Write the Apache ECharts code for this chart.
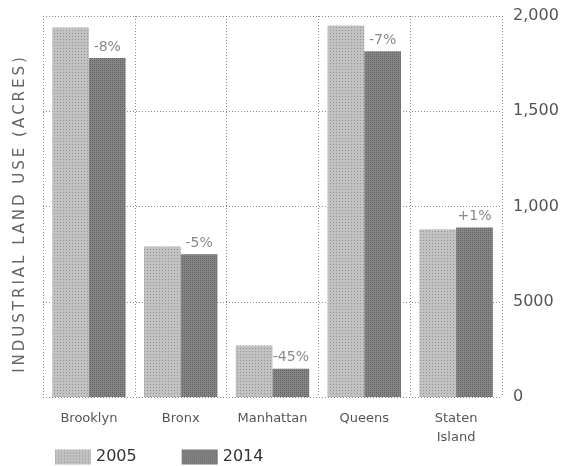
<!DOCTYPE html>
<html>
<head>
<meta charset="utf-8">
<script src="https://cdn.jsdelivr.net/npm/echarts@6/dist/echarts.min.js"></script>
<style>
  html, body { margin: 0; padding: 0; background: #fff; }
  #chart { width: 574px; height: 466px; }
</style>
</head>
<body>
<div id="chart"></div>
<script>
// Industrial land use by borough, acres
const boroughs = ['Brooklyn', 'Bronx', 'Manhattan', 'Queens', 'Staten\nIsland'];
const acres2005 = [1940, 790, 270, 1950, 880];
const acres2014 = [1780, 750, 148, 1815, 890];
const changeLabels = ['-8%', '-5%', '-45%', '-7%', '+1%'];
const tickLabels = { 0: '0', 500: '5000', 1000: '1,000', 1500: '1,500', 2000: '2,000' };
const axisTitle = 'INDUSTRIAL LAND USE (ACRES)';

const font = '"DejaVu Sans", "Liberation Sans", sans-serif';
const dotted = { type: [1, 2], color: '#8c8c8c', width: 1 };

// widen the vertical title with thin spaces between letters
const spacedTitle = axisTitle.split('').join('\u2009');

const chart = echarts.init(document.getElementById('chart'));
chart.setOption({
  animation: false,
  textStyle: { fontFamily: font },
  grid: { left: 43, right: 72, top: 16, bottom: 69 },
  legend: {
    left: 50, top: 444,
    itemWidth: 36, itemHeight: 15, itemGap: 45,
    icon: 'rect',
    textStyle: { fontSize: 16, color: '#333', fontFamily: font },
    data: ['2005', '2014']
  },
  graphic: [{
    type: 'text',
    x: 20, y: 215,
    rotation: Math.PI / 2,
    style: {
      text: spacedTitle,
      fill: '#666',
      font: '15px ' + font,
      align: 'center',
      verticalAlign: 'middle'
    }
  }],
  xAxis: {
    type: 'category',
    data: boroughs,
    axisLine: { show: false },
    axisTick: { show: false },
    splitLine: { show: true, lineStyle: dotted },
    axisLabel: { color: '#555', fontSize: 13, margin: 12, lineHeight: 19, fontFamily: font }
  },
  yAxis: {
    type: 'value',
    position: 'right',
    min: 0, max: 2000, interval: 500,
    axisLine: { show: false },
    axisTick: { show: false },
    splitLine: { show: true, lineStyle: dotted },
    axisLabel: {
      color: '#555', fontSize: 16, margin: 11, fontFamily: font,
      formatter: v => tickLabels[v]
    }
  },
  series: [{
    name: '2005',
    type: 'bar',
    data: acres2005,
    barGap: '0%',
    barCategoryGap: '20%',
    itemStyle: {
      color: '#c2c2c2',
      decal: { symbol: 'rect', symbolSize: 1, dashArrayX: [1, 2], dashArrayY: [1, 2], color: 'rgba(60,60,60,0.35)' }
    }
  }, {
    name: '2014',
    type: 'bar',
    data: acres2014,
    itemStyle: {
      color: '#858585',
      decal: { symbol: 'rect', symbolSize: 1, dashArrayX: [1, 1], dashArrayY: [1, 1], color: 'rgba(40,40,40,0.35)' }
    },
    label: {
      show: true,
      position: 'top',
      distance: 4,
      color: '#8a8a8a',
      fontSize: 14,
      fontFamily: font,
      formatter: p => changeLabels[p.dataIndex]
    }
  }]
});
</script>
</body>
</html>
